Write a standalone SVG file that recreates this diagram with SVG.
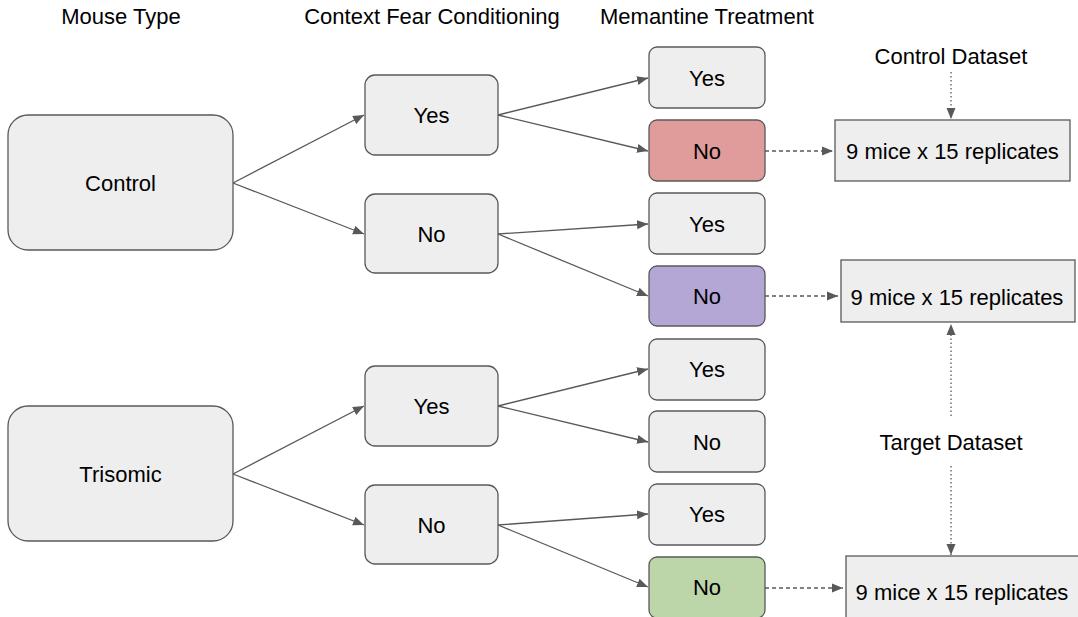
<svg xmlns="http://www.w3.org/2000/svg" width="1078" height="617" viewBox="0 0 1078 617">
<defs>
<marker id="ah" markerUnits="userSpaceOnUse" markerWidth="12" markerHeight="10" refX="11" refY="5" orient="auto">
<path d="M0,0.5 L11,5 L0,9.5 Z" fill="#595959"/>
</marker>
<style>
.t{font-family:"Liberation Sans",Arial,sans-serif;fill:#000;text-anchor:middle;dominant-baseline:central}
.h{font-size:22px}
.l{font-size:22px}
.box{fill:#eeeeee;stroke:#595959;stroke-width:1.3}
.c{stroke:#595959;stroke-width:1.3;fill:none;marker-end:url(#ah)}
.d{stroke-dasharray:4 3}
.o{stroke-dasharray:1.5 2.5}
</style>
</defs>
<rect width="1078" height="617" fill="#fff"/>
<g id="headers">
<text class="t h" x="121" y="16">Mouse Type</text>
<text class="t h" x="432" y="16">Context Fear Conditioning</text>
<text class="t h" x="707" y="16">Memantine Treatment</text>
<text class="t h" x="951" y="56">Control Dataset</text>
<text class="t h" x="951" y="442">Target Dataset</text>
</g>
<g id="connectors">
<line class="c" x1="233" y1="183" x2="364" y2="115"/>
<line class="c" x1="233" y1="183" x2="364" y2="234"/>
<line class="c" x1="233" y1="474" x2="364" y2="406"/>
<line class="c" x1="233" y1="474" x2="364" y2="525"/>
<line class="c" x1="498" y1="115" x2="648" y2="78"/>
<line class="c" x1="498" y1="115" x2="648" y2="151"/>
<line class="c" x1="498" y1="234" x2="648" y2="224"/>
<line class="c" x1="498" y1="234" x2="648" y2="296"/>
<line class="c" x1="498" y1="406" x2="648" y2="369"/>
<line class="c" x1="498" y1="406" x2="648" y2="442"/>
<line class="c" x1="498" y1="525" x2="648" y2="514"/>
<line class="c" x1="498" y1="525" x2="648" y2="587"/>
<line class="c d" x1="765" y1="151" x2="833" y2="151"/>
<line class="c d" x1="765" y1="296" x2="838" y2="296"/>
<line class="c d" x1="765" y1="588" x2="843" y2="588"/>
<line class="c o" x1="951" y1="72" x2="951" y2="119"/>
<line class="c o" x1="951" y1="416" x2="951" y2="324"/>
<line class="c o" x1="951" y1="466" x2="951" y2="555"/>
</g>
<g id="control"><rect class="box" x="8" y="115" width="225" height="135" rx="20"/><text class="t l" x="120.5" y="183">Control</text></g>
<g id="trisomic"><rect class="box" x="8" y="406" width="225" height="135" rx="20"/><text class="t l" x="120.5" y="474">Trisomic</text></g>
<g id="cfc1"><rect class="box" x="365" y="75" width="133" height="80" rx="10"/><text class="t l" x="431.5" y="115">Yes</text></g>
<g id="cfc2"><rect class="box" x="365" y="194" width="133" height="79" rx="10"/><text class="t l" x="431.5" y="234">No</text></g>
<g id="cfc3"><rect class="box" x="365" y="366" width="133" height="80" rx="10"/><text class="t l" x="431.5" y="406">Yes</text></g>
<g id="cfc4"><rect class="box" x="365" y="485" width="133" height="79" rx="10"/><text class="t l" x="431.5" y="525">No</text></g>
<g id="m1"><rect class="box" x="649" y="47" width="116" height="61" rx="8"/><text class="t l" x="707" y="78">Yes</text></g>
<g id="m2"><rect class="box" x="649" y="120" width="116" height="61" rx="8" style="fill:#e09c9a"/><text class="t l" x="707" y="151">No</text></g>
<g id="m3"><rect class="box" x="649" y="193" width="116" height="61" rx="8"/><text class="t l" x="707" y="224">Yes</text></g>
<g id="m4"><rect class="box" x="649" y="266" width="116" height="60" rx="8" style="fill:#b4a7d6"/><text class="t l" x="707" y="296">No</text></g>
<g id="m5"><rect class="box" x="649" y="339" width="116" height="61" rx="8"/><text class="t l" x="707" y="369">Yes</text></g>
<g id="m6"><rect class="box" x="649" y="411" width="116" height="61" rx="8"/><text class="t l" x="707" y="442">No</text></g>
<g id="m7"><rect class="box" x="649" y="484" width="116" height="61" rx="8"/><text class="t l" x="707" y="514">Yes</text></g>
<g id="m8"><rect class="box" x="649" y="557" width="116" height="61" rx="8" style="fill:#bcd6aa"/><text class="t l" x="707" y="587">No</text></g>
<g id="ds1"><rect class="box" x="835" y="120" width="235" height="61"/><text class="t l" x="952.5" y="151">9 mice x 15 replicates</text></g>
<g id="ds2"><rect class="box" x="841" y="260" width="234" height="62"/><text class="t l" x="957" y="297">9 mice x 15 replicates</text></g>
<g id="ds3"><rect class="box" x="846" y="556" width="240" height="70"/><text class="t l" x="962" y="592">9 mice x 15 replicates</text></g>
</svg>
